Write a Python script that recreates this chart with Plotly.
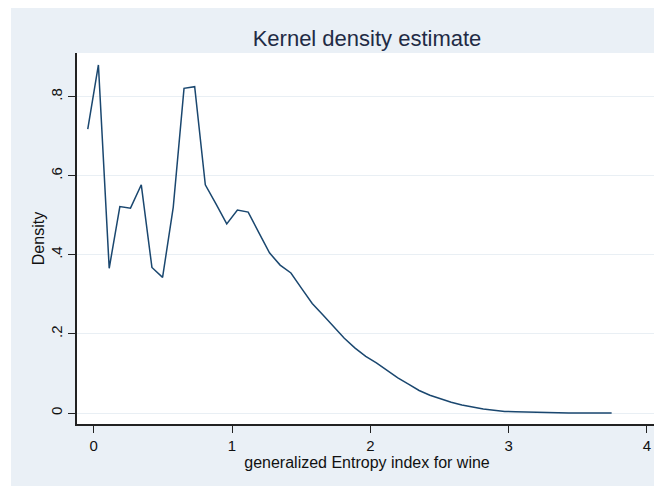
import plotly.graph_objects as go

# Kernel density evaluation points (x) and estimated density (y)
entropy_x = [-0.043, 0.034, 0.112, 0.189, 0.266, 0.344, 0.421, 0.498, 0.575, 0.653,
             0.730, 0.807, 0.885, 0.962, 1.039, 1.117, 1.194, 1.271, 1.348, 1.426,
             1.503, 1.580, 1.658, 1.735, 1.812, 1.890, 1.967, 2.044, 2.121, 2.199,
             2.276, 2.353, 2.431, 2.508, 2.585, 2.662, 2.740, 2.817, 2.894, 2.972,
             3.049, 3.126, 3.204, 3.281, 3.358, 3.435, 3.513, 3.590, 3.667, 3.745]
density_y = [0.718, 0.880, 0.366, 0.522, 0.518, 0.577, 0.368, 0.343, 0.520, 0.821,
             0.825, 0.577, 0.528, 0.478, 0.513, 0.508, 0.456, 0.405, 0.374, 0.354,
             0.315, 0.277, 0.248, 0.218, 0.189, 0.164, 0.143, 0.127, 0.108, 0.089,
             0.073, 0.057, 0.045, 0.035, 0.027, 0.020, 0.014, 0.010, 0.007, 0.004,
             0.003, 0.002, 0.001, 0.001, 0.0005, 0.0003, 0.0002, 0.0001, 0.0001, 0.0]

x_tickvals = [0, 1, 2, 3, 4]
x_ticktext = ["0", "1", "2", "3", "4"]
y_tickvals = [0, 0.2, 0.4, 0.6, 0.8]
y_ticktext = ["0", ".2", ".4", ".6", ".8"]

FONT = "Liberation Sans, Arial, sans-serif"
BG = "#eaf0f6"

fig = go.Figure()
fig.add_trace(go.Scatter(x=entropy_x, y=density_y, mode="lines",
                         line=dict(color="#1a476f", width=1.5),
                         showlegend=False, hoverinfo="x+y"))

# page body adds an 8px offset, so the figure is sized to the remaining area
W, H = 654, 478
L, R, T, B = 69, 5, 45, 62
pw, ph = W - L - R, H - T - B

fig.update_layout(
    width=W, height=H,
    margin=dict(l=L, r=R, t=T, b=B, pad=0),
    paper_bgcolor=BG,
    plot_bgcolor="white",
    font=dict(family=FONT, color="#111111"),
    title=dict(text="Kernel density estimate", x=(L + pw / 2) / W, xanchor="center",
               y=1 - 30 / H, yanchor="middle",
               font=dict(size=22, color="#1f2b45", family=FONT)),
    xaxis=dict(range=[-0.1208, 4.073], tickvals=x_tickvals, ticktext=x_ticktext,
               showgrid=False, zeroline=False, showline=True, linecolor="#222222",
               linewidth=1.5, ticks="outside", ticklen=7, tickwidth=1.3,
               tickcolor="#222222", tickfont=dict(size=15, color="#111111"),
               title=dict(text="generalized Entropy index for wine", standoff=1,
                          font=dict(size=16, color="#111111"))),
    yaxis=dict(range=[-0.0278, 0.9103], tickvals=y_tickvals, ticktext=y_ticktext,
               tickangle=-90, showgrid=True, gridcolor="#e9eff4", gridwidth=1,
               zeroline=False, showline=True, linecolor="#222222", linewidth=1.5,
               ticks="outside", ticklen=7, tickwidth=1.3, tickcolor="#222222",
               tickfont=dict(size=15, color="#111111"),
               title=dict(text="Density", standoff=0,
                          font=dict(size=16, color="#111111"))),
    shapes=[
        dict(type="rect", xref="paper", yref="paper", layer="below",
             x0=-L / pw - 0.05, x1=-(L - 3) / pw, y0=-B / ph - 0.05, y1=1 + T / ph + 0.05,
             fillcolor="white", line=dict(width=0)),
    ],
)

fig.write_html("out.html")
